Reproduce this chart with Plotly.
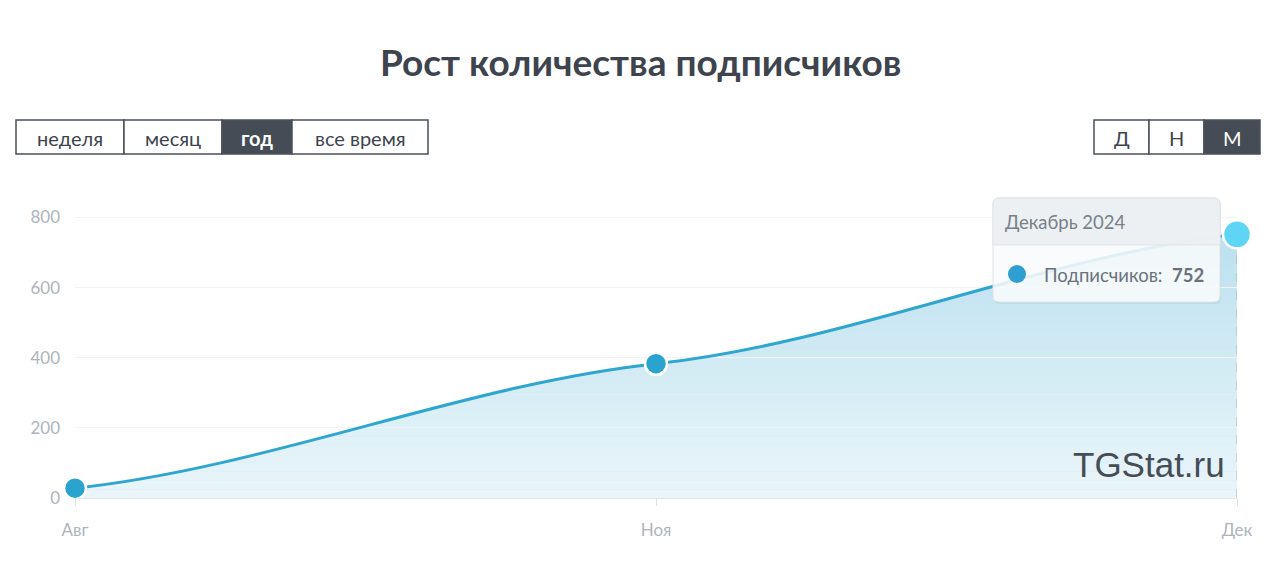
import plotly.graph_objects as go

# ---- data ----
months = ["Авг", "Ноя", "Дек"]
subscribers = [28, 383, 752]
y_ticks = [0, 200, 400, 600, 800]
period_buttons = ["неделя", "месяц", "год", "все время"]
scale_buttons = ["Д", "Н", "М"]
tooltip_title = "Декабрь 2024"
tooltip_label = "Подписчиков:"
title_text = "Рост количества подписчиков"

W, H = 1280, 563
PL, PR, PT, PB = 75, 1237, 200, 498  # plot area in pixels
YMAX = 850

FONT = "Lato, 'Open Sans', sans-serif"


def px_x(px):
    return (px - PL) / (PR - PL)


def px_y(py):
    return (PB - py) / (PB - PT)


def P(x, y):
    return f"{px_x(x):.5f},{px_y(y):.5f}"


def rrect(x0, y0, x1, y1, r):
    """rounded rect path in paper coords, inputs in pixels"""
    return (f"M {P(x0 + r, y0)} L {P(x1 - r, y0)} Q {P(x1, y0)} {P(x1, y0 + r)} "
            f"L {P(x1, y1 - r)} Q {P(x1, y1)} {P(x1 - r, y1)} "
            f"L {P(x0 + r, y1)} Q {P(x0, y1)} {P(x0, y1 - r)} "
            f"L {P(x0, y0 + r)} Q {P(x0, y0)} {P(x0 + r, y0)} Z")


xs = list(range(len(months)))
n = len(xs)

# cardinal-spline tangents (tension factor k) -> cubic Bezier path through the data points
k = 0.5
tang = []
for i in range(n):
    if i == 0:
        m = (subscribers[1] - subscribers[0]) / (xs[1] - xs[0])
    elif i == n - 1:
        m = (subscribers[-1] - subscribers[-2]) / (xs[-1] - xs[-2])
    else:
        m = (subscribers[i + 1] - subscribers[i - 1]) / (xs[i + 1] - xs[i - 1])
    tang.append(k * m)

curve = f"M {xs[0]},{subscribers[0]}"
for i in range(1, n):
    h = (xs[i] - xs[i - 1]) / 3
    c1x, c1y = xs[i - 1] + h, subscribers[i - 1] + tang[i - 1] * h
    c2x, c2y = xs[i] - h, subscribers[i] - tang[i] * h
    curve += f" C {c1x:.5f},{c1y:.3f} {c2x:.5f},{c2y:.3f} {xs[i]},{subscribers[i]}"
area = curve + f" L {xs[-1]},0 L {xs[0]},0 Z"

shapes = []
annotations = []

# area fill (solid) + white bands to fake a vertical gradient
shapes.append(dict(type="path", xref="x", yref="y", path=area,
                   fillcolor="rgba(70,172,214,0.36)", line=dict(width=0), layer="below"))
NB = 30
top = subscribers[-1]
for j in range(NB):
    y0 = top * j / NB
    y1 = top * (j + 1) / NB
    w = 0.68 * (1 - (j + 0.5) / NB)
    shapes.append(dict(type="rect", xref="x", yref="y", x0=xs[0], x1=xs[-1], y0=y0, y1=y1,
                       fillcolor=f"rgba(255,255,255,{w:.3f})", line=dict(width=0), layer="below"))

# the curve itself
shapes.append(dict(type="path", xref="x", yref="y", path=curve,
                   line=dict(color="#2ea6cf", width=3), layer="between"))

# dashed hover line
shapes.append(dict(type="line", xref="x", yref="y", x0=xs[-1], x1=xs[-1], y0=0, y1=subscribers[-1],
                   line=dict(color="#a9b0b8", width=1, dash="dash"), layer="between"))

fig = go.Figure()
fig.add_trace(go.Scatter(
    x=xs[:-1], y=subscribers[:-1], mode="markers",
    marker=dict(size=22, color="#2aa3cf", line=dict(color="white", width=2.5)),
    hoverinfo="skip", showlegend=False, cliponaxis=False,
))
fig.add_trace(go.Scatter(
    x=xs[-1:], y=subscribers[-1:], mode="markers",
    marker=dict(size=28, color="#5fd5f6", line=dict(color="white", width=2.5)),
    hoverinfo="skip", showlegend=False, cliponaxis=False,
))

# title
annotations.append(dict(text=f"<b>{title_text}</b>", xref="paper", yref="paper",
                        x=px_x(640), y=px_y(62), xanchor="center", yanchor="middle",
                        showarrow=False, font=dict(family=FONT, size=37, color="#3d444e")))


# button groups
def button_group(labels, edges, active, y0, y1, bold_active):
    for i, lab in enumerate(labels):
        x0, x1 = edges[i], edges[i + 1]
        is_act = (i == active)
        shapes.append(dict(type="rect", xref="paper", yref="paper",
                           x0=px_x(x0), x1=px_x(x1), y0=px_y(y1), y1=px_y(y0),
                           fillcolor="#454c56" if is_act else "white",
                           line=dict(color="#4a5059", width=1.5), layer="above"))
        annotations.append(dict(text=lab, xref="paper", yref="paper",
                                x=px_x((x0 + x1) / 2), y=px_y((y0 + y1) / 2 + 1),
                                xanchor="center", yanchor="middle", showarrow=False,
                                font=dict(family=FONT, size=20,
                                          color="white" if is_act else "#3d444e",
                                          weight="bold" if (is_act and bold_active) else "normal")))


button_group(period_buttons, [16, 124, 222, 292, 428], 2, 120, 154, True)
button_group(scale_buttons, [1094, 1149, 1204, 1260], 2, 120, 154, False)

# watermark
annotations.append(dict(text="TGStat.ru", xref="paper", yref="paper",
                        x=px_x(1227), y=px_y(464), xanchor="right", yanchor="middle",
                        showarrow=False,
                        font=dict(family="'Liberation Sans', Arial, sans-serif", size=35,
                                  color="#454c55")))

# tooltip
tx0, ty0, tx1, ty1 = 993, 198, 1220, 302
HDR = 245
shapes.append(dict(type="path", xref="paper", yref="paper", path=rrect(tx0 + 1, ty0 + 2, tx1 + 1, ty1 + 2, 6),
                   fillcolor="rgba(0,0,0,0.05)", line=dict(width=0), layer="above"))
shapes.append(dict(type="path", xref="paper", yref="paper", path=rrect(tx0, ty0, tx1, ty1, 6),
                   fillcolor="rgba(250,252,253,0.88)", line=dict(color="#dfe3e7", width=1), layer="above"))
shapes.append(dict(type="path", xref="paper", yref="paper",
                   path=(f"M {P(tx0, HDR)} L {P(tx0, ty0 + 6)} Q {P(tx0, ty0)} {P(tx0 + 6, ty0)} "
                         f"L {P(tx1 - 6, ty0)} Q {P(tx1, ty0)} {P(tx1, ty0 + 6)} L {P(tx1, HDR)} Z"),
                   fillcolor="rgba(236,239,241,0.92)", line=dict(color="#dfe3e7", width=1), layer="above"))
shapes.append(dict(type="circle", xref="paper", yref="paper",
                   x0=px_x(1008), x1=px_x(1026), y0=px_y(283), y1=px_y(265),
                   fillcolor="#2e9fd0", line=dict(width=0), layer="above"))
annotations.append(dict(text=tooltip_title, xref="paper", yref="paper",
                        x=px_x(1003), y=px_y(222), xanchor="left", yanchor="middle",
                        showarrow=False, font=dict(family=FONT, size=18.5, color="#78808a")))
annotations.append(dict(text=f"{tooltip_label}  <b>{subscribers[-1]}</b>", xref="paper", yref="paper",
                        x=px_x(1042), y=px_y(275), xanchor="left", yanchor="middle",
                        showarrow=False, font=dict(family=FONT, size=18.5, color="#6a727c")))

fig.update_layout(
    width=W, height=H,
    margin=dict(l=PL, r=W - PR, t=PT, b=H - PB),
    paper_bgcolor="white", plot_bgcolor="white",
    font=dict(family=FONT),
    shapes=shapes, annotations=annotations,
    xaxis=dict(range=[0, len(months) - 1], tickmode="array", tickvals=xs, ticktext=months,
               showgrid=False, zeroline=False, showline=True, linecolor="#e3e6e9", linewidth=1,
               ticks="outside", ticklen=7, tickcolor="#dde0e4", ticklabelstandoff=10,
               tickfont=dict(family=FONT, size=17, color="#aeb4bc"), fixedrange=True),
    yaxis=dict(range=[0, YMAX], tickmode="array", tickvals=y_ticks,
               showgrid=True, gridcolor="#f2f3f5", zeroline=False, showline=False,
               ticks="", ticklabelstandoff=14,
               tickfont=dict(family=FONT, size=17, color="#aeb4bc"), fixedrange=True),
    hovermode=False,
)

fig.write_html("out.html", config={"displayModeBar": False},
               post_script="document.body.style.margin='0px';")
